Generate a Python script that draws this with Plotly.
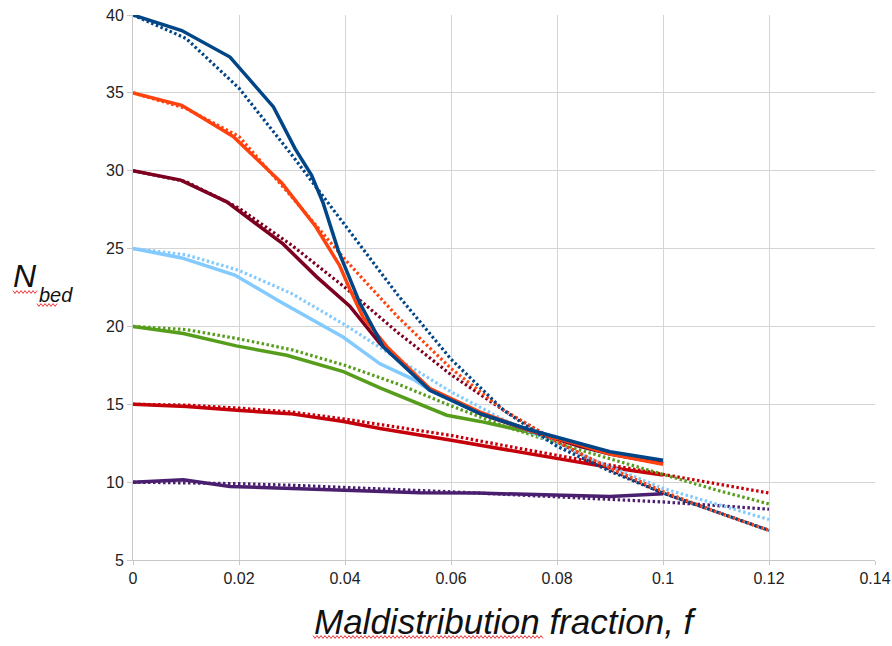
import numpy as np
import plotly.graph_objects as go

# Colours for each initial bed count (LibreOffice default palette)
colors = {
    10: "#4b1f6f",
    15: "#c5000b",
    20: "#579d1c",
    25: "#83caff",
    30: "#7e0021",
    35: "#ff420e",
    40: "#004586",
}

# Simulated N_bed (solid lines), each with its own f samples
f_sim_40 = [0, 0.0092, 0.0183, 0.0265, 0.0306, 0.0337, 0.0359, 0.0387, 0.0428, 0.0472, 0.056, 0.0655, 0.075, 0.0843, 0.09, 0.1]
n_sim_40 = [40, 39.0, 37.3, 34.1, 31.4, 29.7, 27.9, 24.9, 21.5, 18.7, 15.9, 14.4, 13.35, 12.5, 11.95, 11.4]

f_sim_35 = [0, 0.0092, 0.0189, 0.0281, 0.0345, 0.039, 0.0409, 0.0434, 0.0479, 0.056, 0.0655, 0.075, 0.0843, 0.09, 0.1]
n_sim_35 = [35, 34.2, 32.2, 29.2, 26.4, 23.9, 22.4, 20.6, 18.7, 16.0, 14.5, 13.3, 12.4, 11.8, 11.15]

f_sim_30 = [0, 0.009, 0.0177, 0.0283, 0.0346, 0.0409, 0.0466, 0.056, 0.0655, 0.075, 0.0843, 0.09, 0.1]
n_sim_30 = [30, 29.4, 28.0, 25.3, 23.2, 21.3, 18.9, 16.0, 14.4, 13.3, 12.3, 11.8, 11.2]

f_sim_25 = [0, 0.0092, 0.0192, 0.0277, 0.0397, 0.0466, 0.0529, 0.056, 0.0655, 0.075, 0.0843, 0.09, 0.1]
n_sim_25 = [25, 24.4, 23.3, 21.6, 19.3, 17.6, 16.6, 15.9, 14.4, 13.3, 12.3, 11.8, 11.2]

f_sim_20 = [0, 0.0095, 0.0195, 0.029, 0.0397, 0.0466, 0.0592, 0.0655, 0.073, 0.08, 0.09, 0.1]
n_sim_20 = [20, 19.55, 18.75, 18.15, 17.1, 16.05, 14.3, 13.9, 13.35, 12.8, 11.9, 11.2]

f_sim_15 = [0, 0.0101, 0.0202, 0.0296, 0.0397, 0.0466, 0.0598, 0.07, 0.0804, 0.0898, 0.1]
n_sim_15 = [15, 14.85, 14.6, 14.4, 13.9, 13.45, 12.7, 12.1, 11.5, 10.95, 10.45]

f_sim_10 = [0, 0.0095, 0.0183, 0.0397, 0.0542, 0.065, 0.0806, 0.09, 0.1]
n_sim_10 = [10, 10.15, 9.72, 9.5, 9.32, 9.3, 9.17, 9.08, 9.25]

# Model prediction (dotted lines) on a common f grid
f_model = [0, 0.01, 0.02, 0.03, 0.04, 0.05, 0.06, 0.07, 0.08, 0.09, 0.1, 0.11, 0.12]
n_model_40 = [40, 38.5, 35.3, 31.0, 26.5, 22.0, 17.9, 14.6, 12.3, 10.7, 9.3, 8.1, 6.9]
n_model_35 = [35, 34.0, 32.2, 28.3, 24.3, 20.6, 17.3, 14.6, 12.6, 10.9, 9.4, 8.1, 6.9]
n_model_30 = [30, 29.3, 27.6, 25.2, 22.5, 19.6, 16.9, 14.6, 12.6, 10.8, 9.3, 8.1, 6.9]
n_model_25 = [25, 24.6, 23.6, 22.1, 20.1, 17.9, 15.8, 14.0, 12.4, 11.0, 9.6, 8.6, 7.6]
n_model_20 = [20, 19.8, 19.2, 18.5, 17.5, 16.3, 14.9, 13.6, 12.5, 11.5, 10.5, 9.5, 8.6]
n_model_15 = [15, 14.95, 14.75, 14.5, 14.05, 13.5, 13.0, 12.35, 11.7, 11.1, 10.5, 9.9, 9.3]
n_model_10 = [10, 9.97, 9.9, 9.8, 9.67, 9.52, 9.38, 9.22, 9.07, 8.9, 8.73, 8.5, 8.26]

sim = {
    10: (f_sim_10, n_sim_10), 15: (f_sim_15, n_sim_15), 20: (f_sim_20, n_sim_20),
    25: (f_sim_25, n_sim_25), 30: (f_sim_30, n_sim_30), 35: (f_sim_35, n_sim_35),
    40: (f_sim_40, n_sim_40),
}
model = {
    10: n_model_10, 15: n_model_15, 20: n_model_20, 25: n_model_25,
    30: n_model_30, 35: n_model_35, 40: n_model_40,
}

fig = go.Figure()
for n0 in [10, 15, 20, 25, 30, 35, 40]:
    fs, ns = sim[n0]
    fig.add_trace(go.Scatter(x=fs, y=ns, mode="lines",
                             line=dict(color=colors[n0], width=3.5),
                             showlegend=False, hoverinfo="skip"))
    fig.add_trace(go.Scatter(x=f_model, y=model[n0], mode="lines",
                             line=dict(color=colors[n0], width=3.2, dash="2.5px,2.5px"),
                             showlegend=False, hoverinfo="skip"))

W, H = 892, 646
ml, mr, mt, mb = 133, 17, 15, 86
pw, ph = W - ml - mr, H - mt - mb


def px_to_paper(px, py):
    return (px - ml) / pw, (H - mb - py) / ph


def squiggle(x0, x1, y, amp=1.4, period=4.0):
    pts = []
    xs = np.arange(x0, x1 + 0.01, period / 2)
    for i, xv in enumerate(xs):
        yv = y + (amp if i % 2 else -amp)
        pts.append(px_to_paper(xv, yv))
    d = "M " + " L ".join(f"{a:.5f},{b:.5f}" for a, b in pts)
    return dict(type="path", xref="paper", yref="paper", path=d,
                line=dict(color="#e8343a", width=1))


fig.update_layout(
    width=W, height=H,
    margin=dict(l=ml, r=mr, t=mt, b=mb, autoexpand=False),
    paper_bgcolor="white", plot_bgcolor="white",
    font=dict(family="Liberation Sans, Arial, sans-serif", size=16, color="#222222"),
    xaxis=dict(range=[0, 0.14], dtick=0.02, tick0=0, showgrid=True,
               gridcolor="#d4d4d4", gridwidth=1, zeroline=False, automargin=False,
               showline=True, linecolor="#c8c8c8", linewidth=1,
               ticks="outside", ticklen=4, tickcolor="#c8c8c8",
               tickfont=dict(size=16, color="#222222")),
    yaxis=dict(range=[5, 40], dtick=5, tick0=5, showgrid=True,
               gridcolor="#d4d4d4", gridwidth=1, zeroline=False, automargin=False,
               showline=True, linecolor="#c8c8c8", linewidth=1,
               ticks="outside", ticklen=5, tickcolor="#c8c8c8",
               tickfont=dict(size=16, color="#222222")),
    shapes=[
        squiggle(313, 543, 637),
        squiggle(13, 37, 292),
        squiggle(37, 58, 305),
    ],
)

# X-axis title
tx, ty = px_to_paper(505, 621)
fig.add_annotation(text="<i>Maldistribution fraction, f</i>", xref="paper", yref="paper",
                   x=tx, y=ty, xanchor="center", yanchor="middle", showarrow=False,
                   font=dict(size=35, color="#111111"))

# Y-axis label N_bed built from two italic pieces
nx, ny = px_to_paper(11, 276)
bx, by = px_to_paper(37, 295)
fig.add_annotation(text="<i>N</i>", xref="paper", yref="paper", x=nx, y=ny,
                   xanchor="left", yanchor="middle", showarrow=False,
                   font=dict(size=32, color="#111111"))
fig.add_annotation(text="<i>bed</i>", xref="paper", yref="paper", x=bx, y=by,
                   xanchor="left", yanchor="middle", showarrow=False,
                   font=dict(size=20, color="#111111"))

fig.write_html("out.html")
